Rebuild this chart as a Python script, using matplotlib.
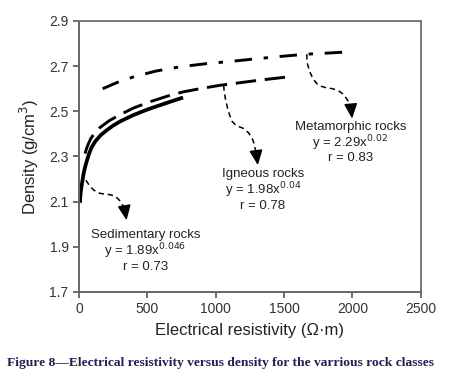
import matplotlib.pyplot as plt

plt.switch_backend('Agg')
plt.rcParams['font.family'] = ['Liberation Sans', 'DejaVu Sans']

# Curves
sed_x = [7, 10, 14, 19, 25, 33, 44, 57, 72, 92, 120, 160, 202, 250, 300, 396, 500, 591, 680, 761]
sed_y = [2.095, 2.125, 2.148, 2.170, 2.192, 2.222, 2.252, 2.280, 2.310, 2.340, 2.368, 2.395, 2.416, 2.437, 2.455,
         2.483, 2.508, 2.527, 2.545, 2.561]

ign_x = [44, 55, 68, 85, 110, 153, 220, 299, 400, 518, 640, 761, 900, 1029, 1180, 1321, 1450, 1564]
ign_y = [2.313, 2.335, 2.355, 2.378, 2.400, 2.428, 2.458, 2.485, 2.515, 2.542, 2.566, 2.586, 2.602, 2.615, 2.627,
         2.638, 2.647, 2.655]

met_x = [173, 280, 396, 560, 737, 930, 1126, 1300, 1491, 1661, 1820, 1965]
met_y = [2.600, 2.628, 2.652, 2.678, 2.697, 2.711, 2.722, 2.733, 2.744, 2.753, 2.758, 2.763]

# Annotation arrows: dashed path, last point is the arrow tip
sed_arrow_x = [51, 75, 110, 153, 190, 226, 255, 280, 305, 323, 338, 348]
sed_arrow_y = [2.195, 2.172, 2.150, 2.137, 2.133, 2.131, 2.126, 2.116, 2.100, 2.080, 2.055, 2.018]
ign_arrow_x = [1058, 1062, 1073, 1088, 1102, 1120, 1150, 1200, 1240, 1272, 1285, 1295, 1302, 1308]
ign_arrow_y = [2.615, 2.585, 2.549, 2.510, 2.483, 2.455, 2.437, 2.425, 2.405, 2.373, 2.345, 2.314, 2.290, 2.262]
met_arrow_x = [1666, 1667, 1673, 1690, 1710, 1740, 1771, 1810, 1856, 1900, 1935, 1965, 1982, 1992, 1997]
met_arrow_y = [2.753, 2.728, 2.704, 2.672, 2.645, 2.622, 2.611, 2.604, 2.600, 2.590, 2.575, 2.549, 2.525, 2.500, 2.468]

labels = ['Sedimentary rocks', 'Igneous rocks', 'Metamorphic rocks']
equations = [r'y = 1.89x$^{0.046}$', r'y = 1.98x$^{0.04}$', r'y = 2.29x$^{0.02}$']
r_values = ['r = 0.73', 'r = 0.78', 'r = 0.83']
label_pos = [(486, 1.952), (1345, 2.222), (1985, 2.432)]

x_ticks = [0, 500, 1000, 1500, 2000, 2500]
y_ticks = [1.7, 1.9, 2.1, 2.3, 2.5, 2.7, 2.9]

fig = plt.figure(figsize=(4.63, 3.81), dpi=100)
ax = fig.add_axes([0.1706, 0.2336, 0.7384, 0.7113])

ax.plot(sed_x, sed_y, color='black', linewidth=2.7, solid_capstyle='butt')
ax.plot(ign_x, ign_y, color='black', linewidth=2.1, dashes=(7, 3))
ax.plot(met_x, met_y, color='black', linewidth=2.1, dashes=(6, 4, 1.5, 4))

for axs, ays in ((sed_arrow_x, sed_arrow_y), (ign_arrow_x, ign_arrow_y), (met_arrow_x, met_arrow_y)):
    ax.plot(axs[:-1], ays[:-1], color='black', linewidth=1.1, dashes=(3.5, 2.5))
    ax.annotate('', xy=(axs[-1], ays[-1]), xytext=(axs[-2], ays[-2]),
                arrowprops=dict(arrowstyle='-|>,head_length=0.9,head_width=0.4',
                                color='black', linewidth=1.1, mutation_scale=10,
                                shrinkA=0, shrinkB=0))

for lab, eq, rv, (lx, ly) in zip(labels, equations, r_values, label_pos):
    ax.text(lx, ly, lab, ha='center', va='center', fontsize=9.5, color='#222222')
    ax.text(lx, ly - 0.072, eq, ha='center', va='center', fontsize=9.5, color='#222222')
    ax.text(lx, ly - 0.140, rv, ha='center', va='center', fontsize=9.5, color='#222222')

ax.set_xlim(0, 2500)
ax.set_ylim(1.7, 2.9)
ax.set_xticks(x_ticks)
ax.set_yticks(y_ticks)
ax.set_xticklabels([str(t) for t in x_ticks])
ax.set_yticklabels([f'{t:.1f}' for t in y_ticks])
ax.tick_params(labelsize=10, colors='#555555', labelcolor='#333333', length=4, width=1.2)

for side in ('left', 'bottom'):
    ax.spines[side].set_color('#666666')
    ax.spines[side].set_linewidth(1.4)
for side in ('top', 'right'):
    ax.spines[side].set_color('#777777')
    ax.spines[side].set_linewidth(1.4)

ax.set_xlabel('Electrical resistivity (\u03a9\u00b7m)', fontsize=12, color='#222222', labelpad=5)
ax.set_ylabel('Density (g/cm$^3$)', fontsize=12, color='#222222', labelpad=6)

fig.text(0.015, 0.047, 'Figure 8\u2014Electrical resistivity versus density for the varrious rock classes',
         fontsize=9.7, fontweight='bold', family='Liberation Serif', color='#1f2150',
         ha='left', va='center')

fig.savefig('out.png', dpi=100)
